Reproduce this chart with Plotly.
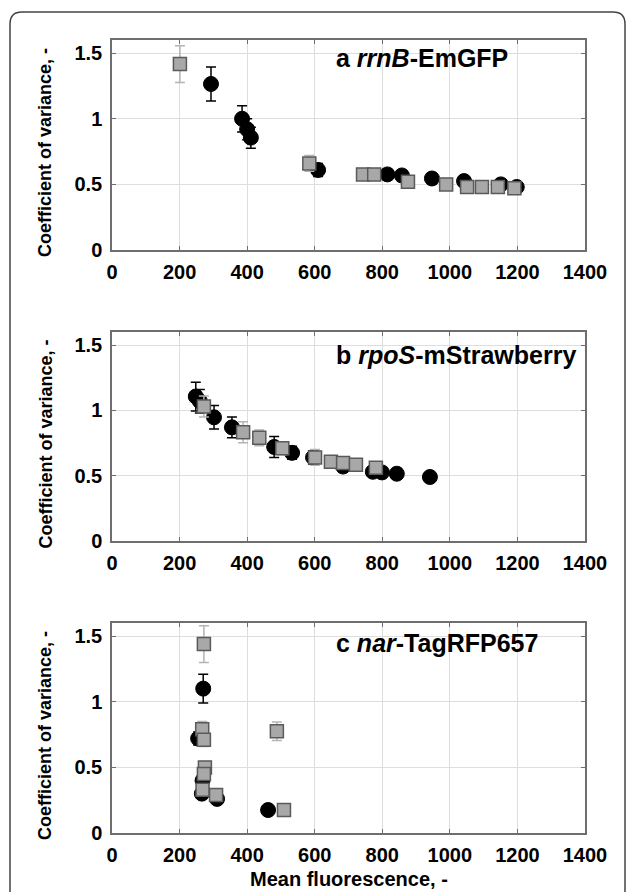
import plotly.graph_objects as go

# ---- data: mean fluorescence (x), coefficient of variance (y), error (e) ----
# panel a: rrnB-EmGFP
a_circ_x = [293, 385, 400, 411, 610, 815, 858, 947, 1042, 1151, 1198]
a_circ_y = [1.265, 1.00, 0.92, 0.856, 0.61, 0.576, 0.568, 0.545, 0.525, 0.50, 0.48]
a_circ_e = [0.13, 0.10, 0.08, 0.08, 0.05, 0.04, 0.04, 0.04, 0.03, 0.03, 0.03]
a_sq_x = [201, 584, 743, 776, 876, 989, 1051, 1095, 1142, 1191]
a_sq_y = [1.417, 0.66, 0.576, 0.576, 0.52, 0.50, 0.48, 0.48, 0.48, 0.47]
a_sq_e = [0.14, 0.06, 0.03, 0.03, 0.03, 0.02, 0.02, 0.02, 0.02, 0.02]

# panel b: rpoS-mStrawberry
b_circ_x = [248, 260, 302, 355, 480, 533, 595, 684, 772, 799, 843, 941]
b_circ_y = [1.106, 1.07, 0.947, 0.87, 0.72, 0.675, 0.64, 0.57, 0.53, 0.525, 0.515, 0.49]
b_circ_e = [0.11, 0.09, 0.09, 0.08, 0.08, 0.05, 0.05, 0.04, 0.03, 0.03, 0.04, 0.02]
b_sq_x = [272, 388, 436, 504, 601, 648, 684, 722, 781]
b_sq_y = [1.03, 0.833, 0.79, 0.71, 0.64, 0.606, 0.598, 0.583, 0.56]
b_sq_e = [0.08, 0.08, 0.06, 0.05, 0.06, 0.04, 0.04, 0.04, 0.04]

# panel c: nar-TagRFP657
c_circ_x = [270, 255, 268, 266, 311, 462]
c_circ_y = [1.10, 0.72, 0.40, 0.30, 0.26, 0.175]
c_circ_e = [0.11, 0.05, 0.03, 0.03, 0.02, 0.02]
c_sq_x = [272, 267, 272, 488, 275, 272, 268, 308, 509]
c_sq_y = [1.44, 0.79, 0.71, 0.775, 0.50, 0.45, 0.33, 0.29, 0.175]
c_sq_e = [0.14, 0.06, 0.05, 0.07, 0.04, 0.04, 0.03, 0.02, 0.02]

x_ticks = [0, 200, 400, 600, 800, 1000, 1200, 1400]
y_ticks = [0, 0.5, 1, 1.5]
y_tick_text = ["0", "0.5", "1", "1.5"]

panel_labels = [
    "<b>a <i>rrnB</i>-EmGFP</b>",
    "<b>b <i>rpoS</i>-mStrawberry</b>",
    "<b>c <i>nar</i>-TagRFP657</b>",
]
y_title = "Coefficient of variance, -"
x_title = "Mean fluorescence, -"

panels = [
    (a_circ_x, a_circ_y, a_circ_e, a_sq_x, a_sq_y, a_sq_e),
    (b_circ_x, b_circ_y, b_circ_e, b_sq_x, b_sq_y, b_sq_e),
    (c_circ_x, c_circ_y, c_circ_e, c_sq_x, c_sq_y, c_sq_e),
]

# ---- layout geometry (pixels) ----
W, H = 630, 892
plot_left, plot_right = 112, 585
panel_px = [(40, 250), (332, 541), (623, 833)]  # (top, bottom)
label_offset = [18, 23, 20]

FONT = "Liberation Sans, Arial, sans-serif"

fig = go.Figure()
layout = dict(
    template="none",
    width=W, height=H,
    margin=dict(l=0, r=0, t=0, b=0, autoexpand=False),
    paper_bgcolor="white", plot_bgcolor="white",
    showlegend=False,
    font=dict(family=FONT, color="black"),
)

annotations = []
for i, (cx, cy, ce, sx, sy, se) in enumerate(panels):
    n = "" if i == 0 else str(i + 1)
    xa, ya = "x" + n, "y" + n
    top, bot = panel_px[i]

    fig.add_trace(go.Scatter(
        x=cx, y=cy, mode="markers", xaxis=xa, yaxis=ya,
        marker=dict(symbol="circle", size=15, color="black",
                    line=dict(color="black", width=1)),
        error_y=dict(type="data", array=ce, color="black",
                     thickness=1.5, width=5),
    ))
    fig.add_trace(go.Scatter(
        x=sx, y=sy, mode="markers", xaxis=xa, yaxis=ya,
        marker=dict(symbol="square", size=13, color="#a8a8a8",
                    line=dict(color="#5a5a5a", width=1.5)),
        error_y=dict(type="data", array=se, color="#b4b4b4",
                     thickness=1.5, width=5),
    ))

    axis_common = dict(
        automargin=False,
        showline=True, linecolor="#6e6e6e", linewidth=1.5, mirror="ticks",
        ticks="inside", ticklen=4, tickcolor="#6e6e6e",
        showgrid=True, gridcolor="#dedede", gridwidth=1,
        zeroline=False,
    )
    layout["xaxis" + n] = dict(
        axis_common,
        domain=[plot_left / W, plot_right / W],
        range=[0, 1400], tickvals=x_ticks, anchor=ya,
        ticklabelstandoff=3,
        tickfont=dict(family=FONT, size=20, color="black", weight="bold"),
    )
    layout["yaxis" + n] = dict(
        axis_common,
        domain=[1 - bot / H, 1 - top / H],
        range=[0, 1.6], tickvals=y_ticks, ticktext=y_tick_text, anchor=xa,
        ticklabelstandoff=4,
        tickfont=dict(family=FONT, size=20, color="black", weight="bold"),
    )

    annotations.append(dict(
        text=panel_labels[i], xref="paper", yref="paper",
        x=334 / W, y=1 - (top + label_offset[i]) / H,
        xanchor="left", yanchor="middle", showarrow=False,
        font=dict(family=FONT, size=25, color="black"),
    ))
    annotations.append(dict(
        text="<b>" + y_title + "</b>", xref="paper", yref="paper",
        x=45 / W, y=1 - ((top + bot) / 2 + 8) / H,
        xanchor="center", yanchor="middle", textangle=-90, showarrow=False,
        font=dict(family=FONT, size=18, color="black"),
    ))

annotations.append(dict(
    text="<b>" + x_title + "</b>", xref="paper", yref="paper",
    x=(plot_left + plot_right) / 2 / W, y=1 - 879 / H,
    xanchor="center", yanchor="middle", showarrow=False,
    font=dict(family=FONT, size=20, color="black"),
))
layout["annotations"] = annotations

# frame around the whole figure, rounded at the top corners
fx0, fx1, fy0 = 10 / W, 625 / W, 1 - 12 / H
rx, ry = 12 / W, 12 / H
frame_path = (
    f"M {fx0} -0.01 L {fx0} {fy0 - ry} Q {fx0} {fy0} {fx0 + rx} {fy0} "
    f"L {fx1 - rx} {fy0} Q {fx1} {fy0} {fx1} {fy0 - ry} L {fx1} -0.01"
)
layout["shapes"] = [dict(type="path", xref="paper", yref="paper",
                         path=frame_path, line=dict(color="#444444", width=1.5))]

fig.update_layout(**layout)
fig.write_html("out.html")
